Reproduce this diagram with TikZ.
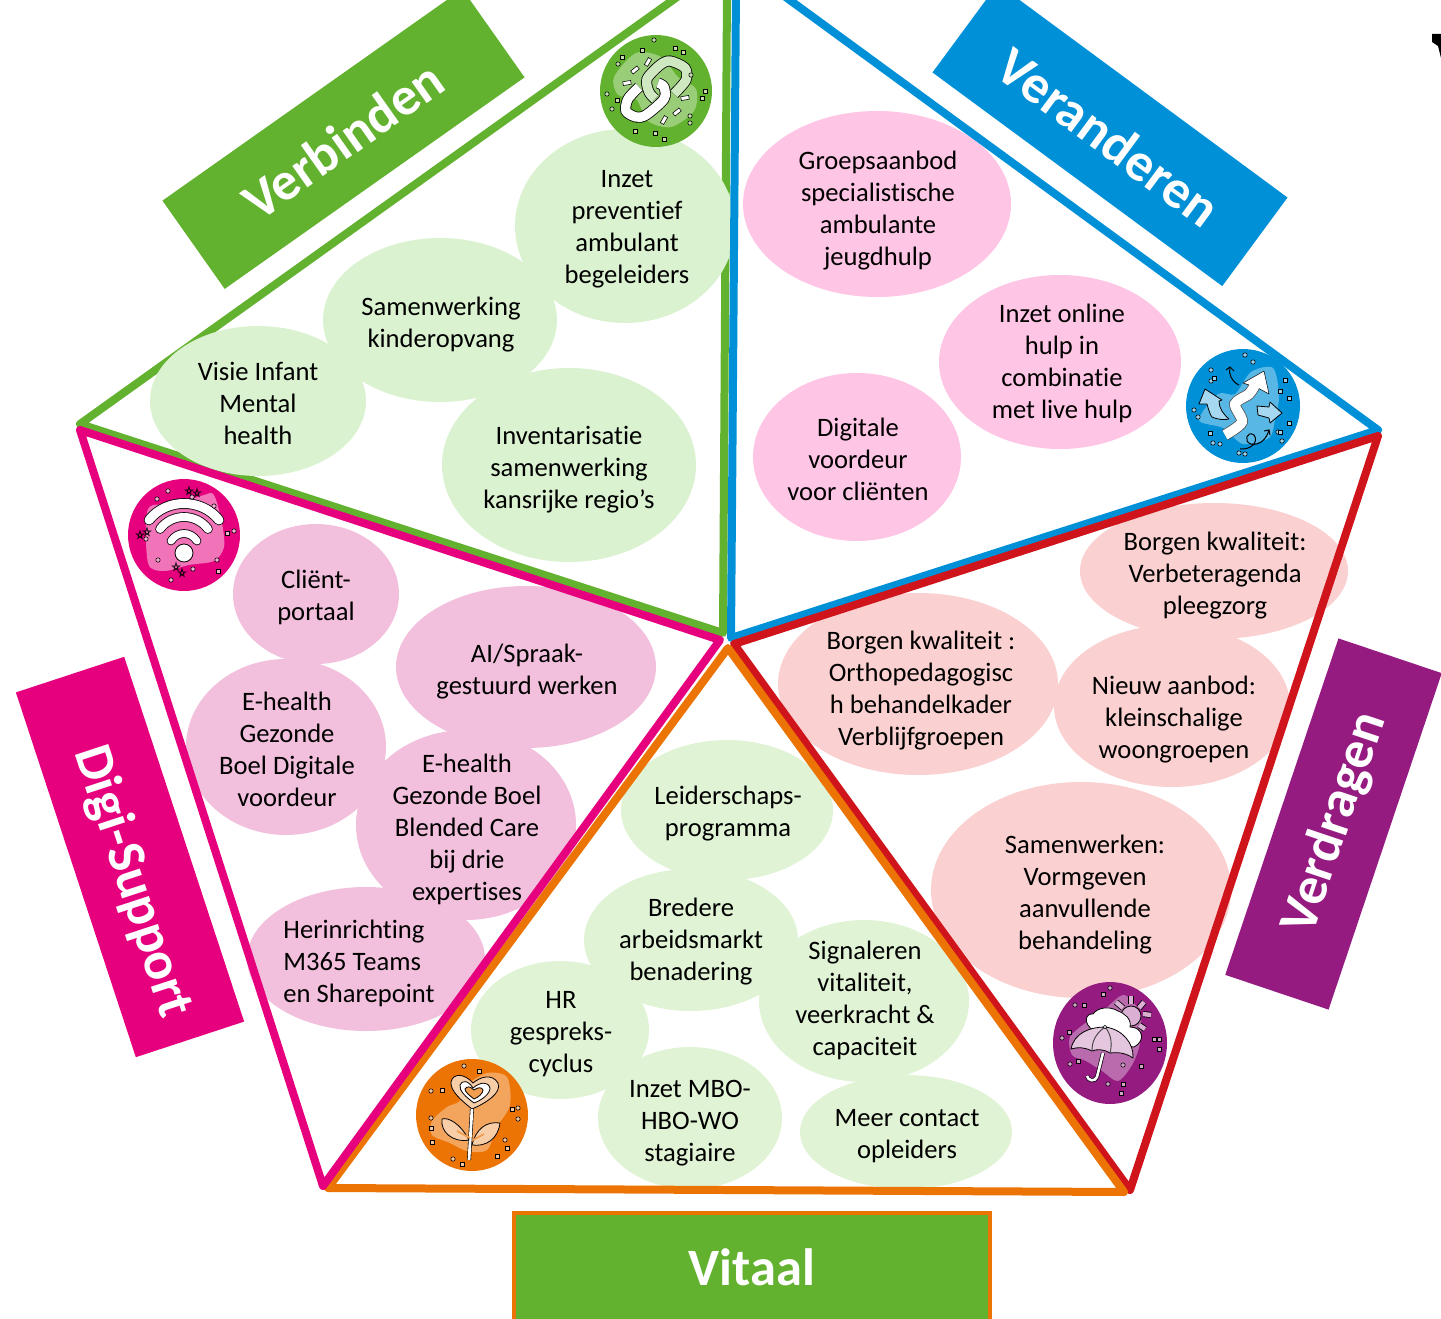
\documentclass[tikz,border=0pt]{standalone}
\usepackage{fontspec}
\setmainfont[Ligatures=NoCommon]{Carlito}
\definecolor{cgreen}{HTML}{63B22F}
\definecolor{cblue}{HTML}{0090D7}
\definecolor{cred}{HTML}{D0141C}
\definecolor{corange}{HTML}{EC7405}
\definecolor{cpink}{HTML}{E6007E}
\definecolor{cpurple}{HTML}{951B81}
\definecolor{bgreen}{HTML}{DAF2D0}
\definecolor{bgreenb}{HTML}{E0F3D5}
\definecolor{bpink}{HTML}{FFC5E5}
\definecolor{brose}{HTML}{FAD0D0}
\definecolor{bmauve}{HTML}{F2C0DC}
\tikzset{
  tri/.style={line width=8pt,line join=round,line cap=round},
  bubbletxt/.style={align=center,font=\fontsize{26.6}{32}\selectfont,inner sep=0pt},
  bandtxt/.style={text=white,inner sep=0pt,font=\fontsize{54}{60}\selectfont\bfseries},
  band/.style={inner sep=0pt,draw=none},
  ln/.style={draw=black,line width=.8pt,line join=round},
  tiny/.style={draw=black,line width=.55pt,fill=#1},
}
\pgfdeclarelayer{textlayer}
\pgfsetlayers{main,textlayer}
\newcommand{\bubble}[9]{%
  \node[ellipse,fill=#1,inner sep=0pt,minimum width=#5pt,minimum height=#6pt] (#2) at (#3,#4) {};
  \begin{pgfonlayer}{textlayer}
  \node[bubbletxt] (#2t) at (#7,#8+2.5) {#9};
  \end{pgfonlayer}
}
\newcommand{\specks}[3]{%
  \foreach \a/\b in {#2} {\draw[tiny=#1] (\a,\b) circle (2.2pt);}
  \foreach \a/\b in {#3} {\draw[tiny=#1] (\a-2,\b-2) rectangle (\a+2,\b+2);}
}
\usetikzlibrary{shapes.geometric}
\begin{document}
\begin{tikzpicture}[x=1pt,y=-1pt]
\useasboundingbox (0,0) rectangle (1441,1319);
\clip (0,0) rectangle (1441,1319);

% bands
\node[band,fill=cgreen,rotate=35.2,minimum width=367pt,minimum height=108pt] (bandA) at (343.5,139) {};
\node[bandtxt,rotate=35.2] (bandAt) at (343,140) {Verbinden};
\node[band,fill=cblue,rotate=-36.4,minimum width=360pt,minimum height=110pt] (bandB) at (1110,135) {};
\node[bandtxt,rotate=-36.4] (bandBt) at (1109,137) {Veranderen};
\node[band,fill=cpurple,rotate=71.4,minimum width=355pt,minimum height=109pt] (bandC) at (1333.5,824) {};
\node[bandtxt,rotate=71.4] (bandCt) at (1335,823) {Verdragen};
\node[band,fill=cpink,rotate=-71.8,minimum width=384pt,minimum height=114pt] (bandD) at (130,857) {};
\node[bandtxt,rotate=-71.8] (bandDt) at (132,882) {Digi-Support};
\node[draw=corange,line width=4pt,fill=cgreen,minimum width=476pt,minimum height=115pt,inner sep=0pt] (bandE) at (751.5,1270) {};
\node[bandtxt,font=\fontsize{52.5}{56}\selectfont\bfseries] (bandEt) at (752,1267) {Vitaal};

% green triangle lies under its bubbles
\draw[tri,cgreen] (687,-10) -- (80,424) -- (723,633) -- (727,-10);

% bubbles
\bubble{bgreen}{a1}{625}{226}{220}{194}{627}{227}{Inzet\\preventief\\ambulant\\begeleiders}
\bubble{bgreen}{a2}{440}{320}{234}{164}{441}{322}{Samenwerking\\kinderopvang}
\bubble{bgreen}{a3}{258}{401}{216}{150}{258}{401}{Visie Infant\\Mental\\health}
\bubble{bgreen}{a4}{569}{465}{254}{194}{569}{467}{Inventarisatie\\samenwerking\\kansrijke regio’s}

\bubble{bpink}{b1}{877}{204}{268}{186}{878}{208}{Groepsaanbod\\specialistische\\ambulante\\jeugdhulp}
\bubble{bpink}{b2}{1060}{362}{242}{174}{1062}{361}{Inzet online\\hulp in\\combinatie\\met live hulp}
\bubble{bpink}{b3}{857}{457}{208}{168}{858}{457}{Digitale\\voordeur\\voor cliënten}

\bubble{brose}{c1}{1214}{571}{268}{136}{1215}{573}{Borgen kwaliteit:\\Verbeteragenda\\pleegzorg}
\bubble{brose}{c2}{918}{684}{280}{182}{921}{688}{Borgen kwaliteit :\\Orthopedagogisc\\h behandelkader\\Verblijfgroepen}
\bubble{brose}{c3}{1172}{706}{236}{162}{1174}{717}{Nieuw aanbod:\\kleinschalige\\woongroepen}
\bubble{brose}{c4}{1081}{890}{300}{216}{1085}{892}{Samenwerken:\\Vormgeven\\aanvullende\\behandeling}

\bubble{bmauve}{d1}{316}{594}{166}{140}{316}{595}{Cliënt-\\portaal}
\bubble{bmauve}{d2}{526}{667}{260}{162}{527}{669}{AI/Spraak-\\gestuurd werken}
\bubble{bmauve}{d3}{286}{747}{200}{176}{287}{747}{E-health\\Gezonde\\Boel Digitale\\voordeur}
\bubble{bmauve}{d4}{466}{825}{220}{190}{467}{827}{E-health\\Gezonde Boel\\Blended Care\\bij drie\\expertises}
\bubble{bmauve}{d5}{366}{959}{238}{144}{359}{962}{\begin{tabular}{@{}l@{}}Herinrichting\\M365 Teams\\en Sharepoint\end{tabular}}

\bubble{bgreenb}{e1}{727}{810}{212}{140}{728}{811}{Leiderschaps-\\programma}
\bubble{bgreenb}{e2}{691}{940}{214}{142}{691}{939}{Bredere\\arbeidsmarkt\\benadering}
\bubble{bgreenb}{e3}{864}{1001}{210}{162}{865}{998}{Signaleren\\vitaliteit,\\veerkracht \&\\capaciteit}
\bubble{bgreenb}{e4}{560}{1030}{178}{138}{561}{1032}{HR\\gespreks-\\cyclus}
\bubble{bgreenb}{e5}{690}{1118}{184}{142}{690}{1121}{Inzet MBO-\\HBO-WO\\stagiaire}
\bubble{bgreenb}{e6}{906}{1132}{212}{114}{907}{1134}{Meer contact\\opleiders}

% remaining triangles
\draw[tri,cblue] (776,-10) -- (1378,430) -- (731,638) -- (736,-10);
\draw[tri,cred] (734,644) -- (1378,436) -- (1130,1190) -- cycle;
\draw[tri,corange] (728,648) -- (1124,1192) -- (328,1188) -- cycle;
\draw[tri,cpink] (80,430) -- (720,640) -- (323,1186) -- cycle;

% icon: link
\begin{scope}[shift={(656,91)}]
  \fill[cgreen] (0,0) circle (56pt);
  \fill[cgreen!65!white] plot[smooth cycle] coordinates {(-42,-14) (-20,-38) (5,-34) (22,-14) (40,-2) (38,20) (15,36) (-8,30) (-20,8) (-38,4)};
  \draw[line width=11pt,black,line cap=butt] plot[smooth] coordinates {(-17,-4) (-28,8) (-30,20) (-20,26) (-10,24) (8,8) (8,-4) (2,-8)};
  \draw[line width=9.4pt,white,line cap=butt] plot[smooth] coordinates {(-17,-4) (-28,8) (-30,20) (-20,26) (-10,24) (8,8) (8,-4) (2,-8)};
  \draw[line width=11pt,black,line cap=butt] plot[smooth] coordinates {(18,3) (30,-11) (29,-23) (14,-30) (4,-26) (-9,-12) (-7,1) (-1,8)};
  \draw[line width=9.4pt,cgreen!30!white,line cap=butt] plot[smooth] coordinates {(18,3) (30,-11) (29,-23) (14,-30) (4,-26) (-9,-12) (-7,1) (-1,8)};
  \foreach \a/\b/\r in {-8/-29/60,-21/-21/40,-29/-8/10,29/7/10,21/21/40,8/29/60}
    {\draw[tiny=white,rotate around={\r:(\a,\b)}] (\a-4,\b-1.9) rectangle (\a+4,\b+1.9);}
  \specks{cgreen!40!white}{-2/-51,-38/-27,-49/3,-44/18,35/-16,34/25,34/32}{-14/-41,-34/-34,27/-39,19/-43,-39/9,-21/40,-1/42,8/48,49/0,46/7}
\end{scope}

% icon: change
\begin{scope}[shift={(1243,406)}]
  \fill[cblue] (0,0) circle (57pt);
  \fill[cblue!65!white] plot[smooth cycle] coordinates {(-44,14) (-25,-12) (-8,-12) (8,-34) (30,-38) (36,-10) (32,14) (26,32) (0,38) (-20,22)};
  \filldraw[ln,fill=cblue!35!white] (-38,-17) -- (-44,-2) -- (-36,-2) .. controls (-34,6) and (-32,10) .. (-31,11) .. controls (-24,14) and (-18,14) .. (-14,13) .. controls (-20,8) and (-24,2) .. (-24,-5) -- (-21,-6) -- cycle;
  \filldraw[ln,fill=cblue!35!white] (14,0) -- (26,1) -- (27,-4) -- (39,7) -- (27,17) -- (26,12) -- (15,9) -- cycle;
  \draw[line width=11.5pt,black!70] plot[smooth] coordinates {(-18,29) (-1,16) (-8,-2) (6,-12) (12,-21)};
  \filldraw[ln,fill=white,line width=.5pt] (0,-23) -- (21,-35) -- (26,-12) -- (15,-18) -- cycle;
  \draw[line width=10pt,white] plot[smooth] coordinates {(-18,29) (-1,16) (-8,-2) (6,-12) (12,-21)};
  \draw[black,line width=1pt] (-4,-21) .. controls (-11,-24) and (-15,-32) .. (-13,-39);
  \draw[black,line width=1pt] (-17,-36) -- (-13,-39) -- (-9,-35);
  \draw[black,line width=1pt] (-3,43) .. controls (8,44) and (16,36) .. (11,29) .. controls (4,24) and (0,36) .. (8,38) .. controls (17,40) and (24,32) .. (26,24);
  \draw[black,line width=1pt] (21,25) -- (26,24) -- (27,29);
  \specks{cblue!40!white}{10/-44,2/-51,-32/-25,-32/-36,-49/4,-30/37,-23/38,-45/11,-4/47,2/48,35/26,39/35}{-29/-28,42/-26,37/-15,46/-8,46/17,-33/27,37/26}
\end{scope}

% icon: umbrella
\begin{scope}[shift={(1110,1043)}]
  \fill[cpurple] (0,0) ellipse (57pt and 61pt);
  \fill[cpurple!65!white] plot[smooth cycle] coordinates {(-40,-6) (-22,-22) (-5,-34) (14,-48) (30,-30) (30,0) (22,22) (8,38) (-8,28) (-24,18) (-38,12)};
  \filldraw[ln,fill=cpurple!35!white] (21,-27) circle (10pt);
  \foreach \a/\b/\c/\d in {6/-41/13/-35,21/-47/21/-39,34/-41/29/-35,41/-28/33/-29,35/-14/29/-18}
    {\draw[black,line width=6pt] (\a,\b) -- (\c,\d); \draw[cpurple!35!white,line width=4.4pt] (\a,\b) -- (\c,\d);}
  \filldraw[ln,fill=white] (-16,-12) .. controls (-28,-20) and (-24,-30) .. (-17,-29) .. controls (-12,-36) and (0,-37) .. (8,-32) .. controls (14,-30) and (22,-24) .. (20,-16) .. controls (33,-16) and (36,-2) .. (24,4) -- (-4,0) -- cycle;
  \filldraw[ln,fill=cpurple!25!white] (-39,6) .. controls (-36,-10) and (-20,-16) .. (-5,-16) .. controls (12,-14) and (24,0) .. (23,15) .. controls (16,10) and (8,9) .. (0,10) .. controls (-6,6) and (-14,6) .. (-18,8) .. controls (-26,4) and (-32,4) .. (-39,6) -- cycle;
  \draw[black!75,line width=.9pt] (-5,-16) .. controls (-16,-8) and (-18,0) .. (-18,8) (-5,-16) .. controls (2,-8) and (2,2) .. (0,10);
  \draw[black,line width=4pt] (-7,10) -- (-13,34) .. controls (-15,39) and (-22,38) .. (-23,33);
  \draw[white,line width=2.6pt] (-7,10) -- (-13,34) .. controls (-15,39) and (-22,38) .. (-23,33);
  \draw[tiny=white] (-5,-16) circle (1.7pt);
  \specks{cpurple!40!white}{-35/-38,-48/-5,-40/21,0/-55,13/22,-2/41}{-7/-49,-26/-38,-41/-11,-32/18,44/-4,49/-4,13/41,31/23,11/50,49/6}
\end{scope}

% icon: flower
\begin{scope}[shift={(472,1115)}]
  \fill[corange] (0,0) circle (56pt);
  \fill[corange!65!white] plot[smooth cycle] coordinates {(-40,6) (-25,-8) (-12,-14) (-5,-30) (15,-42) (35,-38) (38,-10) (25,12) (15,35) (-5,36) (-22,28) (-40,20)};
  \filldraw[ln,fill=corange!35!white] (0,-6) .. controls (-10,-14) and (-22,-24) .. (-21,-33) .. controls (-19,-42) and (-8,-42) .. (1,-32) .. controls (8,-38) and (20,-42) .. (26,-32) .. controls (30,-22) and (14,-12) .. (0,-6) -- cycle;
  \filldraw[ln,fill=white] (2,-12) .. controls (-6,-18) and (-13,-24) .. (-12,-30) .. controls (-10,-35) and (-4,-35) .. (1,-27) .. controls (8,-33) and (16,-34) .. (18,-27) .. controls (18,-21) and (10,-15) .. (2,-12) -- cycle;
  \filldraw[ln,fill=corange!70!white] (2,-16) .. controls (-3,-20) and (-7,-23) .. (-7,-26) .. controls (-5,-29) and (-2,-29) .. (2,-25) .. controls (6,-28) and (10,-28) .. (11,-25) .. controls (11,-22) and (7,-18) .. (2,-16) -- cycle;
  \draw[black,line width=4pt] (0,-6) -- (-3,45);
  \draw[white,line width=2.8pt] (0,-6) -- (-3,45);
  \filldraw[ln,fill=corange!35!white] (-3,25) .. controls (-12,8) and (-24,2) .. (-30,4) .. controls (-32,16) and (-20,28) .. (-3,25) -- cycle;
  \filldraw[ln,fill=corange!35!white] (0,30) .. controls (14,32) and (26,24) .. (28,8) .. controls (14,6) and (4,14) .. (0,30) -- cycle;
  \draw[corange!70!white,line width=1.8pt] (-15,16) -- (-2,23) (12,19) -- (1,25);
  \specks{corange!40!white}{-41/3,-8/-49,-41/-24,33/25,46/-7,46/4,-19/44}{-30/-25,-41/13,-40/27,7/-44,40/-6,35/33,25/41,-10/49}
\end{scope}

% icon: wifi
\begin{scope}[shift={(184,535)}]
  \fill[cpink] (0,0) circle (56pt);
  \fill[cpink!55!white] plot[smooth cycle] coordinates {(-36,-26) (-10,-30) (20,-40) (30,-40) (38,-12) (40,12) (30,26) (5,30) (-20,36) (-36,28)};
  \foreach \a/\b/\c/\d/\e/\f/\w in {-35/-15/0/-37/35/-15/9,-24/-6/0/-22/24/-6/8,-13/6/0/-4/13/6/7}{
    \draw[black,line width=\w pt+1.6pt,line cap=round] (\a,\b) .. controls (\a/2,\d) and (\e/2,\d) .. (\e,\f);
    \draw[white,line width=\w pt,line cap=round] (\a,\b) .. controls (\a/2,\d) and (\e/2,\d) .. (\e,\f);
  }
  \filldraw[ln,fill=white] (0,18) circle (9pt);
  \foreach \a/\b in {5/-44,13/-42,-44/0,-37/-3,-8/32,-2/38}{
    \draw[black,line width=.55pt] (\a,\b-4.6) -- (\a+2.3,\b+3.6) -- (\a-4,\b-1.2) -- (\a+4,\b-1.2) -- (\a-2.3,\b+3.6) -- cycle;
  }
  \specks{cpink!30!white}{-27/-36,-16/-44,8/-38,30/-29,-38/4,50/-4,-26/25,33/25,9/34,-13/45}{43/-2,34/36}
\end{scope}

% mark at top right
\fill[black] (1432,34) -- (1441,34) -- (1441,58) -- (1438,46) -- (1432,42) -- cycle;
\end{tikzpicture}
\end{document}
